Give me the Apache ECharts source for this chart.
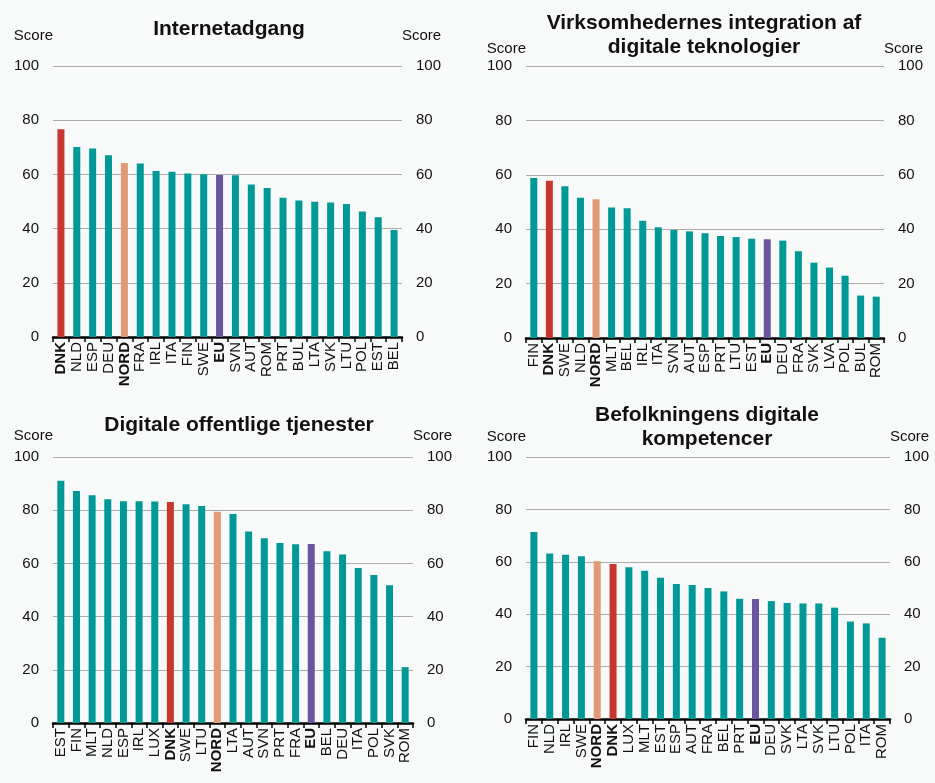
<!DOCTYPE html>
<html>
<head>
<meta charset="utf-8">
<script src="https://cdn.jsdelivr.net/npm/echarts@6/dist/echarts.min.js"></script>
<style>
html,body{margin:0;padding:0;background:#f8f9f9;}
#c{width:935px;height:783px;}
</style>
</head>
<body>
<div id="c"></div>
<script>
// ---- Data ----
const titles = [
  "Internetadgang",
  "Virksomhedernes integration af\ndigitale teknologier",
  "Digitale offentlige tjenester",
  "Befolkningens digitale\nkompetencer"
];
const cat1 = ["DNK","NLD","ESP","DEU","NORD","FRA","IRL","ITA","FIN","SWE","EU","SVN","AUT","ROM","PRT","BUL","LTA","SVK","LTU","POL","EST","BEL"];
const val1 = [76.7,70.1,69.6,67.1,64.2,64.0,61.3,61.0,60.3,60.1,59.8,59.7,56.3,55.0,51.4,50.4,49.9,49.6,49.1,46.3,44.2,39.5];
const cat2 = ["FIN","DNK","SWE","NLD","NORD","MLT","BEL","IRL","ITA","SVN","AUT","ESP","PRT","LTU","EST","EU","DEU","FRA","SVK","LVA","POL","BUL","ROM"];
const val2 = [58.8,57.8,55.8,51.6,51.0,48.0,47.7,43.1,40.7,39.7,39.2,38.5,37.5,37.1,36.5,36.3,35.8,31.9,27.7,25.9,22.9,15.6,15.2];
const cat3 = ["EST","FIN","MLT","NLD","ESP","IRL","LUX","DNK","SWE","LTU","NORD","LTA","AUT","SVN","PRT","FRA","EU","BEL","DEU","ITA","POL","SVK","ROM"];
const val3 = [91.1,87.2,85.6,84.1,83.4,83.4,83.3,83.1,82.2,81.6,79.4,78.6,72.0,69.5,67.7,67.2,67.3,64.6,63.3,58.3,55.6,51.8,21.0];
const cat4 = ["FIN","NLD","IRL","SWE","NORD","DNK","LUX","MLT","EST","ESP","AUT","FRA","BEL","PRT","EU","DEU","SVK","LTA","SVK","LTU","POL","ITA","ROM"];
const val4 = [71.4,63.2,62.7,62.1,60.2,59.2,57.9,56.6,53.9,51.5,51.1,50.0,48.7,45.9,45.8,45.0,44.3,44.1,44.1,42.5,37.2,36.5,31.0];
const yTicks = [0,20,40,60,80,100];
const boldCats = ["DNK","NORD","EU"];

// ---- Styles ----
const TEAL = "#009995", RED = "#c7372f", SALMON = "#e09a77", PURPLE = "#6a559e";
const FONT = "Liberation Sans, Arial, sans-serif";
const cats = [cat1,cat2,cat3,cat4];
const vals = [val1,val2,val3,val4];

const grids = [
  {left:53, top:66, width:349, height:271},
  {left:526, top:66, width:358, height:272},
  {left:53, top:457, width:360, height:266},
  {left:526, top:457, width:364, height:262}
];
const titlePos = [
  {x:229, y:17}, {x:704, y:11}, {x:239, y:413}, {x:707, y:403}
];
const scoreGap = [30, 17, 21, 20];

const option = {
  backgroundColor: "#f8f9f9",
  animation: false,
  title: titles.map((t,i)=>({
    text: t, left: titlePos[i].x, top: titlePos[i].y, textAlign: "center", padding: 0,
    textStyle: {fontFamily: FONT, fontWeight: "bold", fontSize: 21, lineHeight: 24, color: "#111"}
  })),
  grid: grids.map(g=>Object.assign({containLabel:false}, g)),
  xAxis: cats.map((c,i)=>({
    type: "category", gridIndex: i, data: c,
    axisLine: {show:true, lineStyle:{color:"#000", width:2.5}},
    axisTick: {show:true, length:5, lineStyle:{color:"#000", width:1.5}},
    axisLabel: {
      rotate: 90, interval: 0, margin: 5,
      fontFamily: FONT, fontSize: 15, color: "#111",
      formatter: v => boldCats.includes(v) ? "{b|"+v+"}" : v,
      rich: {b: {fontFamily: FONT, fontSize: 15, fontWeight: "bold", color: "#111"}}
    },
    splitLine: {show:false}
  })),
  yAxis: [],
  series: []
};

cats.forEach((c,i)=>{
  ["left","right"].forEach(pos=>{
    option.yAxis.push({
      type: "value", gridIndex: i, position: pos, min: yTicks[0], max: yTicks[yTicks.length-1], interval: 20,
      name: "Score", nameLocation: "end", nameGap: scoreGap[i],
      nameTextStyle: {fontFamily: FONT, fontSize: 15, color: "#111", align: pos==="left" ? "right" : "left", verticalAlign: "middle",
        padding: pos==="left" ? [0,0,0,0] : [0,0,0,0]},
      axisLine: {show:false}, axisTick: {show:false},
      axisLabel: {fontFamily: FONT, fontSize: 15, color: "#111", margin: 14},
      splitLine: {show: pos==="left", lineStyle:{color:"#ababab", width:1}}
    });
  });
  option.series.push({
    type: "bar", xAxisIndex: i, yAxisIndex: i*2, data: vals[i], barWidth: 7,
    itemStyle: {color: p => p.name==="DNK" ? RED : p.name==="NORD" ? SALMON : p.name==="EU" ? PURPLE : TEAL}
  });
});

const chart = echarts.init(document.getElementById("c"), null, {renderer: "canvas"});
chart.setOption(option);
</script>
</body>
</html>
